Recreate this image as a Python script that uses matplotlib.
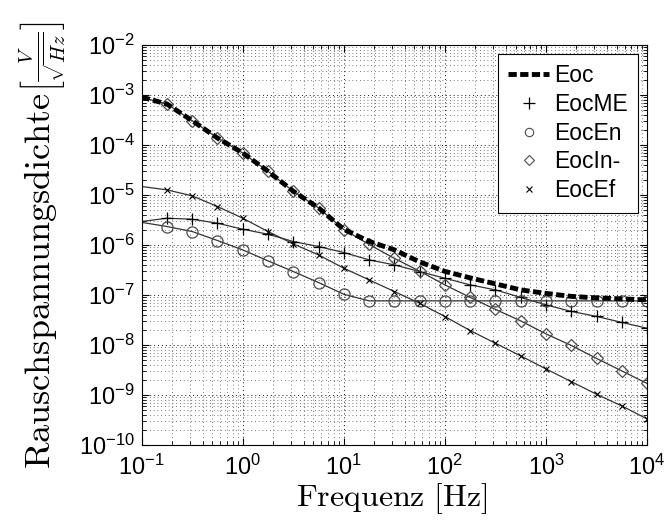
import numpy as np
import matplotlib
matplotlib.use("Agg")
import matplotlib.pyplot as plt
from matplotlib.lines import Line2D
from matplotlib.ticker import LogLocator, NullFormatter

plt.rcParams['font.family'] = ['Liberation Sans', 'DejaVu Sans']
plt.rcParams['mathtext.fontset'] = 'cm'

# frequency exponents (decades) of the sampled points
freq_exp = [-1.0, -0.75, -0.5, -0.25, 0.0, 0.25, 0.5, 0.75, 1.0, 1.25, 1.5,
            1.75, 2.0, 2.25, 2.5, 2.75, 3.0, 3.25, 3.5, 3.75, 4.0]

# log10 of the noise densities
eoc_log = [-3.046, -3.184, -3.517, -3.863, -4.162, -4.529, -4.928, -5.26, -5.69, -5.93, -6.10,
           -6.34, -6.53, -6.66, -6.78, -6.90, -6.97, -7.03, -7.06, -7.08, -7.10]
eocme_log = [-5.533, -5.467, -5.487, -5.567, -5.687, -5.787, -5.933, -6.033, -6.153, -6.30, -6.40,
             -6.533, -6.667, -6.80, -6.90, -7.05, -7.20, -7.33, -7.43, -7.55, -7.667]
eocen_log = [-5.55, -5.633, -5.733, -5.913, -6.10, -6.32, -6.533, -6.753, -6.987, -7.12, -7.12,
             -7.12, -7.12, -7.12, -7.12, -7.12, -7.12, -7.12, -7.12, -7.12, -7.12]
eocin_log = [-3.05, -3.184, -3.517, -3.863, -4.162, -4.529, -4.928, -5.26, -5.693, -5.992, -6.27,
             -6.525, -6.80, -7.05, -7.29, -7.52, -7.78, -8.01, -8.27, -8.52, -8.77]
eocef_log = [-4.833, -4.90, -5.02, -5.233, -5.467, -5.733, -5.98, -6.20, -6.467, -6.70, -6.933,
             -7.167, -7.433, -7.713, -7.967, -8.22, -8.48, -8.733, -8.987, -9.22, -9.48]

labels = ['Eoc', 'EocME', 'EocEn', 'EocIn-', 'EocEf']

f = 10.0 ** np.array(freq_exp)
eoc = 10.0 ** np.array(eoc_log)
eocme = 10.0 ** np.array(eocme_log)
eocen = 10.0 ** np.array(eocen_log)
eocin = 10.0 ** np.array(eocin_log)
eocef = 10.0 ** np.array(eocef_log)

fig = plt.figure(figsize=(6.65, 5.21), dpi=100)
ax = fig.add_axes([0.213, 0.146, 0.760, 0.768])

lc = '0.2'
mk = slice(1, None)
ax.plot(f, eocme, '-', color=lc, lw=0.9, marker='+', ms=9, mew=0.9, mec='k', markevery=mk)
ax.plot(f, eocen, '-', color=lc, lw=0.9, marker='o', ms=8, mfc='none', mew=0.9, mec='0.3', markevery=mk)
ax.plot(f, eocin, '-', color=lc, lw=0.9, marker='D', ms=6, mfc='none', mew=0.9, mec='0.3', markevery=mk)
ax.plot(f, eocef, '-', color=lc, lw=0.9, marker='x', ms=5, mew=0.8, mec='k', markevery=mk)
ax.plot(f, eoc, color='k', lw=3.5, ls=(0, (1.7, 0.7)))

ax.set_xscale('log')
ax.set_yscale('log')
ax.set_xlim(1e-1, 1e4)
ax.set_ylim(1e-10, 1e-2)

ax.xaxis.set_major_locator(LogLocator(base=10, numticks=20))
ax.yaxis.set_major_locator(LogLocator(base=10, numticks=20))
ax.xaxis.set_minor_locator(LogLocator(base=10, subs=np.arange(2, 10), numticks=200))
ax.yaxis.set_minor_locator(LogLocator(base=10, subs=np.arange(2, 10), numticks=200))
ax.xaxis.set_minor_formatter(NullFormatter())
ax.yaxis.set_minor_formatter(NullFormatter())

ax.grid(True, which='major', ls=(0, (1, 3)), lw=0.7, color='0.1')
ax.grid(True, which='minor', ls=(0, (1, 3.5)), lw=0.6, color='0.3')
ax.tick_params(which='both', direction='in', top=True, right=True, labelsize=17)
ax.tick_params(axis='x', which='major', pad=7)
ax.tick_params(axis='y', which='major', pad=5)
ax.tick_params(which='major', length=5)
ax.tick_params(which='minor', length=3)
for s in ax.spines.values():
    s.set_linewidth(0.8)

ax.set_xlabel(r'$\mathrm{Frequenz\ [Hz]}$', fontsize=23)
ax.xaxis.set_label_coords(0.495, -0.09)
ax.set_ylabel(r'$\mathrm{Rauschspannungsdichte}$', fontsize=26, va='center', ha='center')
ax.yaxis.set_label_coords(-0.2, 0.41)
ax.text(-0.195, 0.97, r'$\left[\frac{V}{\sqrt{Hz}}\right]$', transform=ax.transAxes,
        fontsize=21, rotation=90, ha='center', va='center', rotation_mode='anchor')

handles = [
    Line2D([], [], color='k', lw=3.5, ls=(0, (1.7, 0.7))),
    Line2D([], [], ls='none', marker='+', ms=8, mew=0.9, mec='k'),
    Line2D([], [], ls='none', marker='o', ms=6, mfc='none', mew=0.8, mec='0.3'),
    Line2D([], [], ls='none', marker='D', ms=5, mfc='none', mew=0.8, mec='0.3'),
    Line2D([], [], ls='none', marker='x', ms=4, mew=0.8, mec='k'),
]
leg = ax.legend(handles, labels, loc='upper right', fontsize=16.5, frameon=True, fancybox=False,
                edgecolor='k', framealpha=1, borderaxespad=0.4, handlelength=1.8,
                handletextpad=0.2, labelspacing=0.25, borderpad=0.45)
leg.get_frame().set_linewidth(0.8)

fig.savefig('out.png', dpi=100)
